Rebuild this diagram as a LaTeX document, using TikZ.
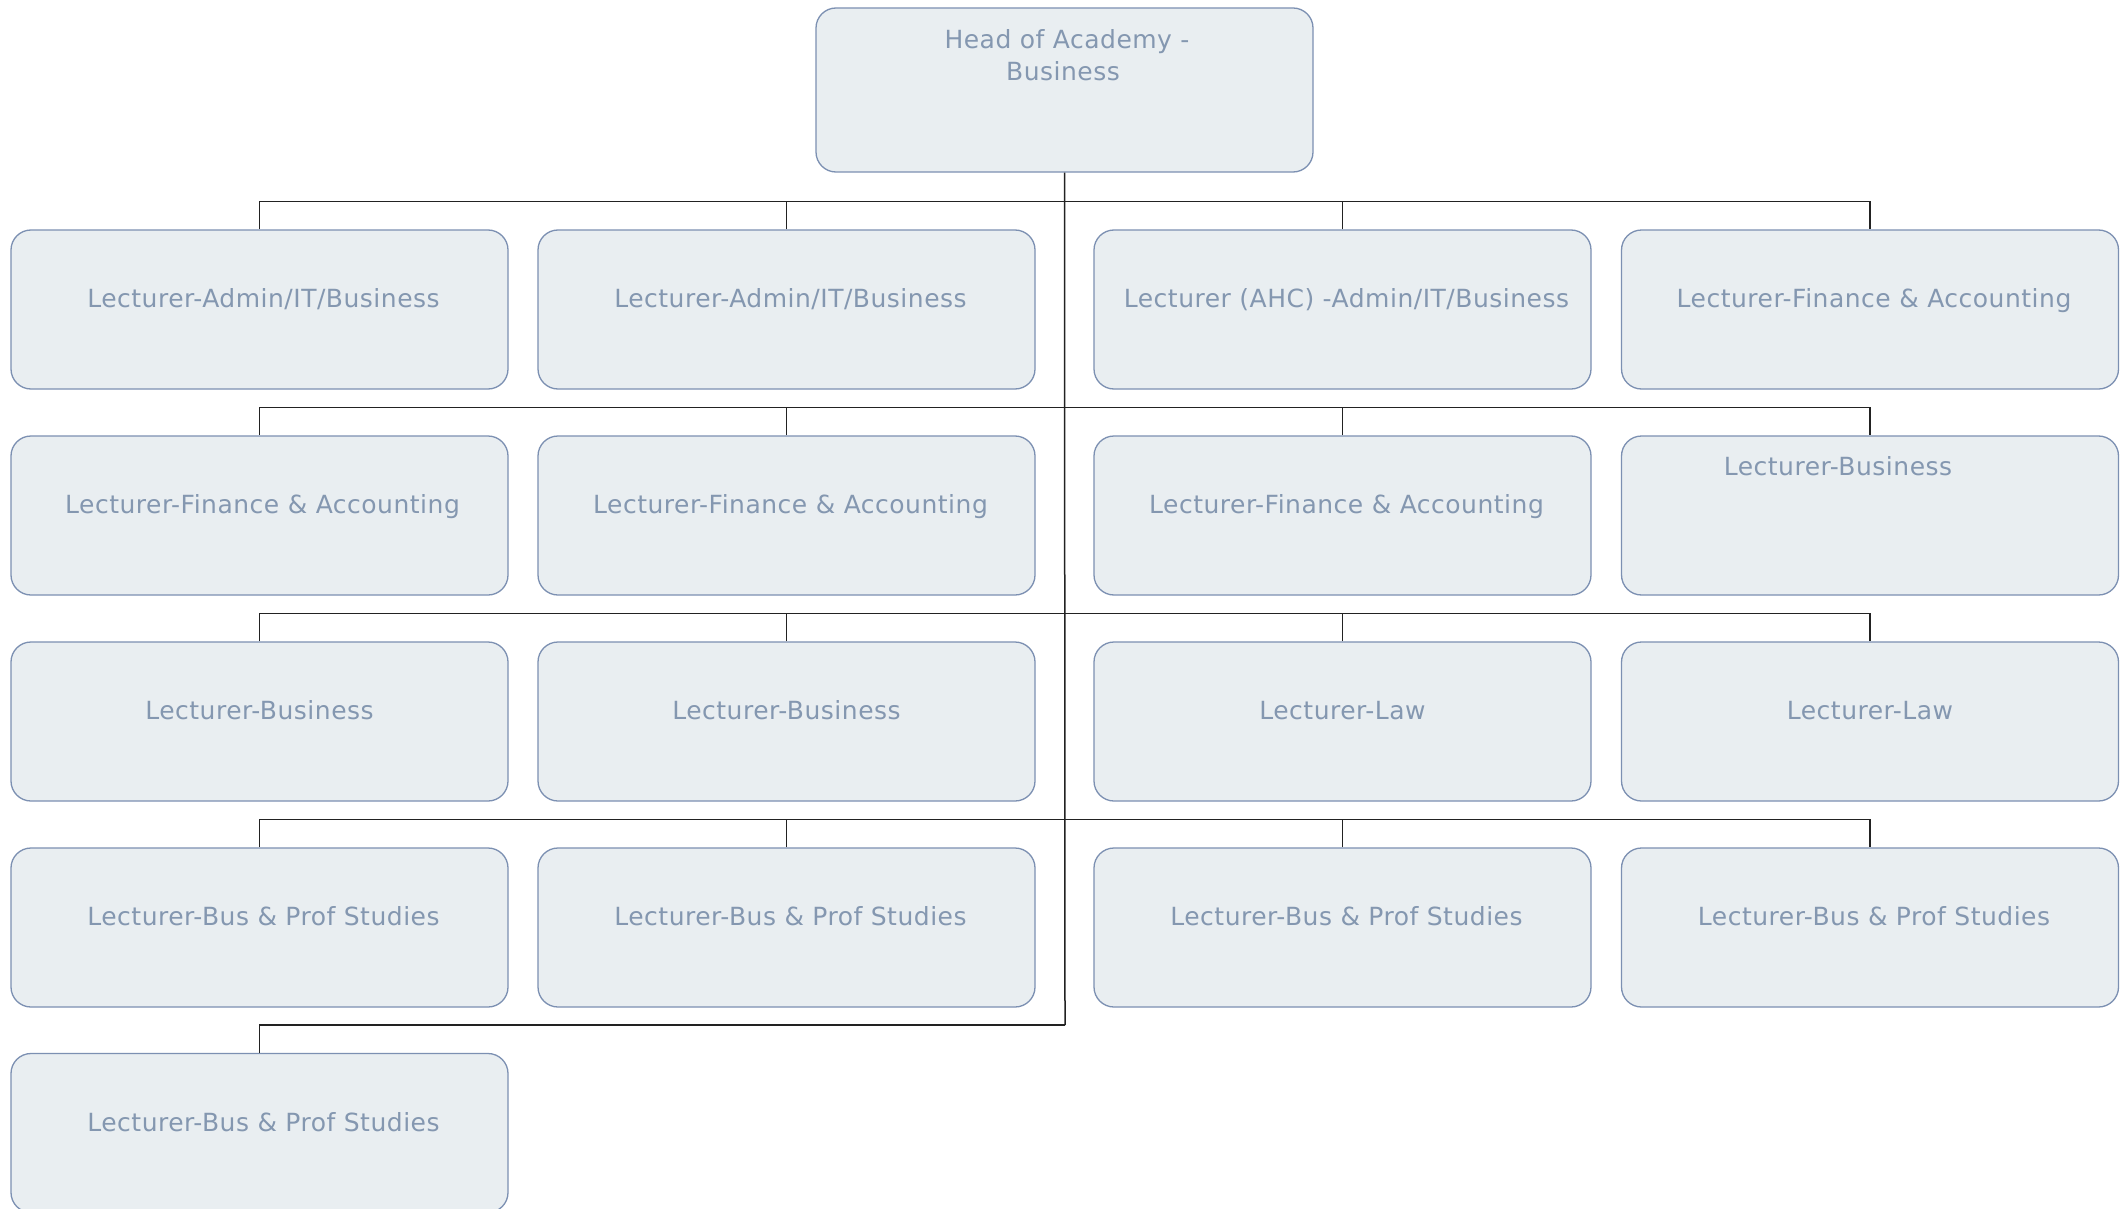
\documentclass[tikz,border=0pt]{standalone}
\usepackage{fontspec}
\setmainfont[LetterSpace=2]{DejaVu Sans}
\definecolor{boxfill}{HTML}{E9EEF1}
\definecolor{boxline}{HTML}{7C90B2}
\definecolor{txtcol}{HTML}{8497B0}
\definecolor{conncol}{HTML}{222222}
\begin{document}
\begin{tikzpicture}[x=1pt,y=1pt,
  box/.style={draw=boxline, fill=boxfill, line width=1.3pt, rounded corners=20pt,
              minimum width=497pt, minimum height=159pt, inner sep=0pt},
  lbl/.style={anchor=base, text=txtcol, font=\fontsize{25}{30}\selectfont, inner sep=0pt},
  conn/.style={draw=conncol, line width=1.5pt}]
\useasboundingbox (0,0) rectangle (2125,-1209);
\clip (0,0) rectangle (2125,-1209);
\fill[white] (0,0) rectangle (2125,-1209);

% head
\node[box, minimum height=164pt] (head) at (1064.5,-90) {};
\node[lbl] (headt1) at (1067,-48.5) {Head of Academy -};
\node[lbl] (headt2) at (1063,-80.5) {Business};

% boxes
\node[box] (r1c1) at (259.5,-309.5) {};
\node[box] (r1c2) at (786.5,-309.5) {};
\node[box] (r1c3) at (1342.5,-309.5) {};
\node[box] (r1c4) at (1870,-309.5) {};
\node[box] (r2c1) at (259.5,-515.5) {};
\node[box] (r2c2) at (786.5,-515.5) {};
\node[box] (r2c3) at (1342.5,-515.5) {};
\node[box] (r2c4) at (1870,-515.5) {};
\node[box] (r3c1) at (259.5,-721.5) {};
\node[box] (r3c2) at (786.5,-721.5) {};
\node[box] (r3c3) at (1342.5,-721.5) {};
\node[box] (r3c4) at (1870,-721.5) {};
\node[box] (r4c1) at (259.5,-927.5) {};
\node[box] (r4c2) at (786.5,-927.5) {};
\node[box] (r4c3) at (1342.5,-927.5) {};
\node[box] (r4c4) at (1870,-927.5) {};
\node[box] (r5c1) at (259.5,-1133) {};

% labels
\node[lbl] (t11) at ([shift={(4,-78.5)}]r1c1.north) {Lecturer-Admin/IT/Business};
\node[lbl] (t12) at ([shift={(4,-78.5)}]r1c2.north) {Lecturer-Admin/IT/Business};
\node[lbl] (t13) at ([shift={(4,-78.5)}]r1c3.north) {Lecturer (AHC) -Admin/IT/Business};
\node[lbl] (t14) at ([shift={(4,-78.5)}]r1c4.north) {Lecturer-Finance \& Accounting};
\node[lbl] (t21) at ([shift={(3,-78.5)}]r2c1.north) {Lecturer-Finance \& Accounting};
\node[lbl] (t22) at ([shift={(4,-78.5)}]r2c2.north) {Lecturer-Finance \& Accounting};
\node[lbl] (t23) at ([shift={(4,-78.5)}]r2c3.north) {Lecturer-Finance \& Accounting};
\node[lbl] (t24) at ([shift={(-32,-40)}]r2c4.north) {Lecturer-Business};
\node[lbl] (t31) at ([shift={(0,-78.5)}]r3c1.north) {Lecturer-Business};
\node[lbl] (t32) at ([shift={(0,-78.5)}]r3c2.north) {Lecturer-Business};
\node[lbl] (t33) at ([shift={(0,-78.5)}]r3c3.north) {Lecturer-Law};
\node[lbl] (t34) at ([shift={(0,-78.5)}]r3c4.north) {Lecturer-Law};
\node[lbl] (t41) at ([shift={(4,-78.5)}]r4c1.north) {Lecturer-Bus \& Prof Studies};
\node[lbl] (t42) at ([shift={(4,-78.5)}]r4c2.north) {Lecturer-Bus \& Prof Studies};
\node[lbl] (t43) at ([shift={(4,-78.5)}]r4c3.north) {Lecturer-Bus \& Prof Studies};
\node[lbl] (t44) at ([shift={(4,-78.5)}]r4c4.north) {Lecturer-Bus \& Prof Studies};
\node[lbl] (t51) at ([shift={(4,-78.5)}]r5c1.north) {Lecturer-Bus \& Prof Studies};

% connectors
\coordinate (trunkend) at (1065,-1025);
\draw[conn] (head.south) -- (trunkend);
\foreach \r in {1,2,3,4}{
  \draw[conn] (r\r c1.north) -- ++(0,28) -- ([yshift=28pt]r\r c4.north) -- (r\r c4.north);
  \draw[conn] (r\r c2.north) -- ++(0,28);
  \draw[conn] (r\r c3.north) -- ++(0,28);
}
\draw[conn] (r5c1.north) |- (trunkend);
\end{tikzpicture}
\end{document}
